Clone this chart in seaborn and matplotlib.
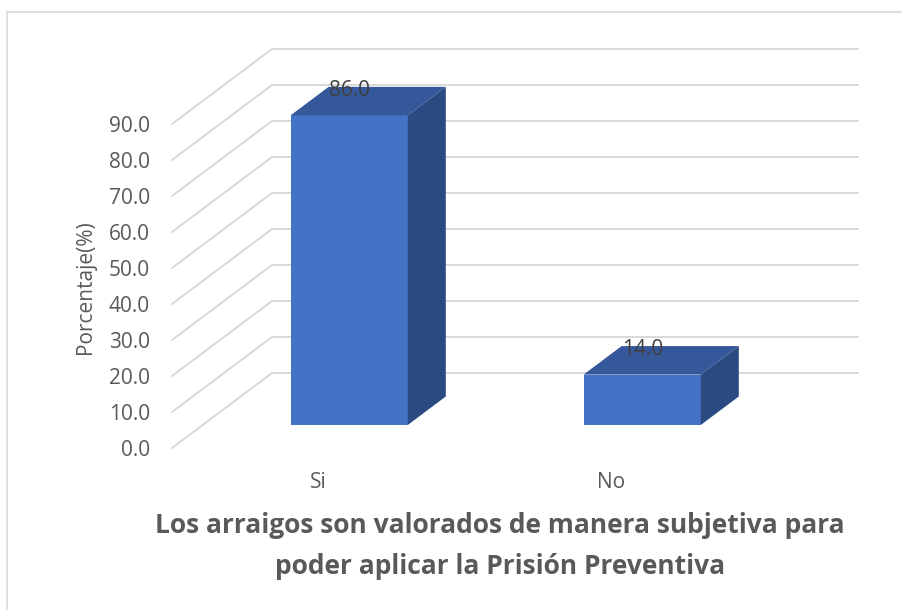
import matplotlib
matplotlib.use("Agg")
import matplotlib.pyplot as plt
import seaborn as sns
from matplotlib.lines import Line2D
from matplotlib.patches import Polygon, Rectangle
from matplotlib.transforms import IdentityTransform, offset_copy

# datos del grafico
categorias = ["Si", "No"]
porcentajes = [86.0, 14.0]
ticks_y = [0, 10, 20, 30, 40, 50, 60, 70, 80, 90]
titulo = "Los arraigos son valorados de manera subjetiva para\npoder aplicar la Prisión Preventiva"
etiqueta_y = "Porcentaje(%)"

sns.set_style("white")
plt.rcParams["font.family"] = ["Open Sans", "DejaVu Sans"]

gris_txt = "#595959"
gris_grid = "#D9D9D9"
azul = "#4472C4"
azul_top = "#34589A"
azul_lado = "#2B4A82"

W, H = 903, 610
fig = plt.figure(figsize=(W / 100, H / 100), dpi=100)
# ejes = plano frontal de la pared lateral (0 en y=448, 90 en y=124)
ax = fig.add_axes([172 / W, (H - 448) / H, 586 / W, 324 / H])
ax.set_facecolor("none")

sns.barplot(x=categorias, y=porcentajes, width=0.4, color=azul,
            saturation=1, ax=ax, zorder=2)
ax.set_xlim(-0.5, 1.5)
ax.set_ylim(0, 90)
sns.despine(ax=ax, left=True, bottom=True)

# proyeccion oblicua: profundidad 1 = 100 px a la derecha, 75 px arriba
DX, DY = 100, 75
d0, d1 = 0.307, 0.687   # profundidad de las barras


def proj(x, v, d):
    px, py = ax.transData.transform((x, v))
    return px + DX * d, py + DY * d


ident = IdentityTransform()
for v in ticks_y:
    a = proj(-0.5, v, 1)
    b = proj(1.5, v, 1)
    c = proj(-0.5, v, 0)
    ax.add_line(Line2D([a[0], b[0]], [a[1], b[1]], color=gris_grid, lw=1.4,
                       transform=ident, clip_on=False, zorder=0.5))
    ax.add_line(Line2D([c[0], a[0]], [c[1], a[1]], color=gris_grid, lw=1.4,
                       transform=ident, clip_on=False, zorder=0.5))

frente = offset_copy(ax.transData, fig=fig, x=DX * d0, y=DY * d0, units="dots")
for p, val in zip(ax.patches, porcentajes):
    p.set_transform(frente)
    p.set_clip_on(False)
    p.set_linewidth(0)
    x0, x1 = p.get_x(), p.get_x() + p.get_width()
    top = [proj(x0, val, d0), proj(x1, val, d0), proj(x1, val, d1), proj(x0, val, d1)]
    lado = [proj(x1, 0, d0), proj(x1, val, d0), proj(x1, val, d1), proj(x1, 0, d1)]
    ax.add_patch(Polygon(top, closed=True, facecolor=azul_top, edgecolor="none",
                         transform=ident, clip_on=False, zorder=2))
    ax.add_patch(Polygon(lado, closed=True, facecolor=azul_lado, edgecolor="none",
                         transform=ident, clip_on=False, zorder=2))

# etiquetas de datos
etiq = offset_copy(ax.transData, fig=fig, x=DX * d0, y=DY * d0 + 25, units="dots")
for i, val in enumerate(porcentajes):
    ax.text(i, val, f"{val:.1f}", transform=etiq, ha="center", va="center",
            fontsize=15, color="#404040", zorder=3, clip_on=False)

ax.set_yticks(ticks_y)
ax.set_yticklabels([f"{t:.1f}" for t in ticks_y])
ax.tick_params(axis="y", length=0, pad=16, labelsize=15, labelcolor=gris_txt)
ax.tick_params(axis="x", length=0, pad=17, labelsize=15, labelcolor=gris_txt)

ax.set_ylabel(etiqueta_y, fontsize=15, color=gris_txt)
ax.yaxis.label.set_va("center")
ax.yaxis.set_label_coords((85 - 172) / 586, (448 - 287) / 324)

ax.set_xlabel(titulo, fontsize=19, fontweight="bold", color=gris_txt,
              linespacing=1.65)
ax.xaxis.label.set_va("top")
ax.xaxis.set_label_coords((500 - 172) / 586, -(512 - 448) / 324)

# borde del area del grafico
fig.add_artist(Rectangle((7 / W, -0.1), 1.2, 0.1 + (H - 12) / H,
                         transform=fig.transFigure, facecolor="none",
                         edgecolor=gris_grid, lw=1.2))

fig.savefig("out.png", dpi=100)
